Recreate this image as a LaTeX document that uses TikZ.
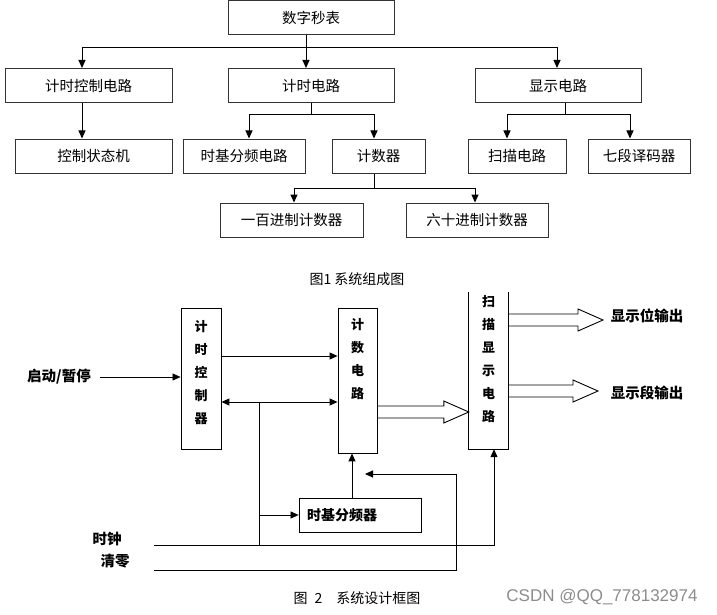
\documentclass[tikz,border=0pt]{standalone}
\usepackage{fontspec}
\setmainfont{Noto Sans CJK SC}
\newfontfamily\wmfont{Liberation Sans}
\usetikzlibrary{positioning,arrows.meta,calc}

\tikzset{
  blk/.style={draw=black!80,line width=1pt,minimum height=34pt,font=\fontsize{14.5}{16}\selectfont},
  arr/.style={-{Triangle[length=8pt,width=7pt]},line width=1pt},
  darr/.style={{Triangle[length=8pt,width=7pt]}-{Triangle[length=8pt,width=7pt]},line width=1pt},
  colbox/.style={draw,line width=0.9pt,inner sep=0pt},
  vtext/.style={anchor=north,align=center,inner sep=0pt,font=\fontsize{13}{23}\selectfont\bfseries},
  lbl/.style={inner sep=1pt,font=\fontsize{14.5}{16}\selectfont\bfseries},
  fat/.style={line width=0.9pt,line join=miter},
}

% hollow wide arrow between two points on the same level
\newcommand{\fatarrow}[2]{%
  \draw[fat] ($(#1)+(0,-6)$) -- ($(#2)+(-25,-6)$) -- ($(#2)+(-25,-11)$) -- (#2)
    -- ($(#2)+(-25,11)$) -- ($(#2)+(-25,6)$) -- ($(#1)+(0,6)$);}

\begin{document}
\begin{tikzpicture}[x=1pt,y=-1pt]
  \useasboundingbox (0,0) rectangle (717,615);

  % system structure
  \node[blk,minimum width=166pt] (top)   at (311,18)    {数字秒表};
  \node[blk,minimum width=167pt] (ctrl)  at (88.5,85.5) {计时控制电路};
  \node[blk,minimum width=166pt] (timer) at (311,85.5)  {计时电路};
  \node[blk,minimum width=166pt] (disp)  at (558,85.5)  {显示电路};
  \node[blk,minimum width=157pt] (fsm)   at (93.5,156)  {控制状态机};
  \node[blk,minimum width=122pt] (base)  at (244,156)   {时基分频电路};
  \node[blk,minimum width=93pt]  (cnt)   at (378.5,156) {计数器};
  \node[blk,minimum width=98pt]  (sweep) at (517,156)   {扫描电路};
  \node[blk,minimum width=102pt] (seven) at (639,156)   {七段译码器};
  \node[blk,minimum width=143pt] (hund)  at (291.5,220) {一百进制计数器};
  \node[blk,minimum width=142pt] (sixty) at (477,220)   {六十进制计数器};

  \coordinate (b1) at (306,48);
  \coordinate (b2) at (311,115);
  \coordinate (b3) at (565,115);
  \coordinate (b4) at (374,188);
  \draw[arr] (top.south -| b1) -- (timer.north -| b1);
  \draw[arr] (b1) -| (ctrl.north -| 82,0);
  \draw[arr] (b1) -| (disp.north -| 557,0);
  \draw[arr] (ctrl.south -| 82,0) -- (fsm.north -| 82,0);
  \draw[line width=1pt] (timer.south -| b2) -- (b2);
  \draw[arr] (b2) -| (base.north -| 249,0);
  \draw[arr] (b2) -| (cnt.north -| 374,0);
  \draw[line width=1pt] (disp.south -| b3) -- (b3);
  \draw[arr] (b3) -| (sweep.north -| 507,0);
  \draw[arr] (b3) -| (seven.north -| 630,0);
  \draw[line width=1pt] (cnt.south -| b4) -- (b4);
  \draw[arr] (b4) -| (hund.north -| 294,0);
  \draw[arr] (b4) -| (sixty.north -| 475,0);

  \node[font=\fontsize{14}{16}\selectfont] (cap1) at (357,279) {图1 系统组成图};

  % design block diagram
  \node[colbox,minimum width=40pt,minimum height=141pt,
        label={[vtext,yshift=-13pt]north:计\\时\\控\\制\\器}] (tctrl) at (201,378.5) {};
  \node[colbox,minimum width=39pt,minimum height=145pt,
        label={[vtext,yshift=-11pt]north:计\\数\\电\\路}] (cntc) at (357.5,380.5) {};
  \node[inner sep=0pt,minimum width=39pt,minimum height=157pt,
        label={[vtext,yshift=-3pt]north:扫\\描\\显\\示\\电\\路}] (scand) at (488.5,370.5) {};
  \draw[line width=0.9pt] (scand.north west) -- (scand.south west) -- (scand.south east) -- (scand.north east);
  \node[colbox,line width=0.8pt,minimum width=122pt,minimum height=34pt,text width=106pt,
        align=left,inner xsep=8pt,font=\fontsize{14}{16}\selectfont\bfseries] (div) at (360,515) {时基分频器};

  \node[lbl] (start)  at (59,377)  {启动/暂停};
  \node[lbl] (clk)    at (107,539) {时钟};
  \node[lbl] (clr)    at (115,561) {清零};
  \node[lbl] (bitout) at (647,316) {显示位输出};
  \node[lbl] (segout) at (647,393) {显示段输出};

  \coordinate (p1) at (0,356);
  \coordinate (j) at (259,402);
  \coordinate (clk0) at (154,545);
  \coordinate (clr0) at (154,570);
  \coordinate (clrend) at (365,474);
  \draw[arr,line width=0.6pt] ([xshift=8pt]start.east) -- (start.east -| tctrl.west);
  \draw[arr] (tctrl.east |- p1) -- (cntc.west |- p1);
  \draw[darr] (tctrl.east |- j) -- (cntc.west |- j);
  \draw[line width=1pt] (j) -- (j |- clk0);
  \draw[arr,line width=0.6pt] (j |- div.west) -- (div.west);
  \draw[arr] (div.north -| 352,0) -- (cntc.south -| 352,0);
  \draw[arr] (clk0) -| ([xshift=5.5pt]scand.south);
  \draw[arr] (clr0) -| (clrend -| 456,0) -- (clrend);

  \coordinate (f1a) at (cntc.east |- 0,412);
  \coordinate (f1b) at (scand.west |- 0,412);
  \coordinate (f2a) at (scand.east |- 0,320);
  \coordinate (f2b) at (603,320);
  \coordinate (f3a) at (scand.east |- 0,391);
  \coordinate (f3b) at (598,391);
  \fatarrow{f1a}{f1b}
  \fatarrow{f2a}{f2b}
  \fatarrow{f3a}{f3b}

  \node[font=\fontsize{14}{16}\selectfont] (cap2) at (357,598) {图\enspace 2\quad 系统设计框图};
  \node[font=\wmfont\fontsize{17}{19}\selectfont,text=black!45] (mark) at (602,597) {CSDN @QQ\_778132974};
\end{tikzpicture}
\end{document}
